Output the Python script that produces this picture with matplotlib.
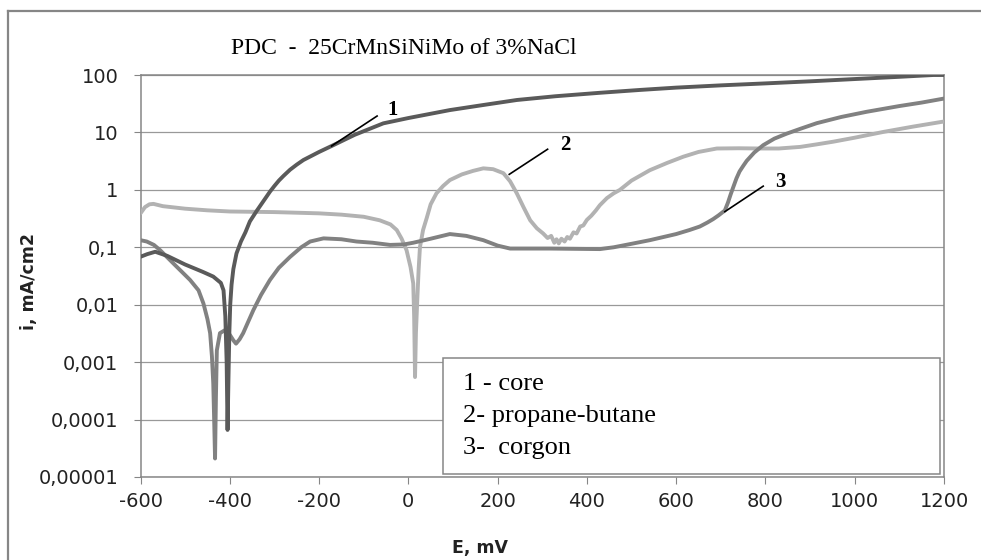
import matplotlib.pyplot as plt
from matplotlib.lines import Line2D
from matplotlib.patches import Rectangle

# curve 1 - core
e_core = [-600, -585, -567, -540, -500, -460, -437, -420, -414, -410, -407, -405,
          -403, -401, -399, -396, -392, -385, -375, -365, -355, -340, -325, -310,
          -300, -290, -280, -265, -250, -235, -220, -200, -172, -120, -56, 0, 93,
          170, 243, 330, 429, 520, 600, 700, 803, 900, 1000, 1100, 1176, 1200]
i_core = [0.0684, 0.0759, 0.0836, 0.0708, 0.0501, 0.0372, 0.0309, 0.024, 0.0178,
          0.0063, 0.001, 0.000066, 0.0005, 0.0032, 0.01, 0.0224, 0.0417, 0.078,
          0.126, 0.182, 0.282, 0.427, 0.63, 0.93, 1.17, 1.45, 1.74, 2.24, 2.75, 3.31,
          3.8, 4.57, 5.8, 9.1, 14.4, 17.8, 24.5, 30.2, 36.7, 42.7, 49, 55, 60.3, 66,
          71.6, 77.6, 85, 93, 100, 100]

# curve 2 - propane-butane
e_pb = [-600, -590, -580, -571, -550, -500, -450, -400, -300, -200, -150, -100,
        -64, -40, -26, -15, -4, 5, 11, 13, 15, 17, 20, 23, 26, 33, 41, 50, 63, 78,
        93, 120, 145, 168, 190, 213, 228, 243, 258, 273, 288, 302, 312, 320, 327,
        332, 337, 343, 350, 356, 362, 370, 377, 385, 392, 400, 410, 420, 429, 445,
        460, 474, 500, 541, 580, 616, 650, 691, 740, 788, 830, 878, 915, 952, 1000,
        1064, 1130, 1200]
i_pb = [0.39, 0.50, 0.56, 0.57, 0.52, 0.47, 0.44, 0.42, 0.41, 0.39, 0.37, 0.34,
        0.295, 0.25, 0.20, 0.141, 0.089, 0.045, 0.0234, 0.0063, 0.00055, 0.0032,
        0.012, 0.04, 0.1, 0.2, 0.32, 0.56, 0.87, 1.17, 1.48, 1.86, 2.14, 2.37, 2.29,
        1.95, 1.41, 0.87, 0.5, 0.295, 0.214, 0.174, 0.145, 0.158, 0.12, 0.138,
        0.117, 0.141, 0.126, 0.151, 0.141, 0.182, 0.174, 0.23, 0.24, 0.30, 0.355,
        0.437, 0.54, 0.72, 0.87, 1.0, 1.45, 2.2, 2.95, 3.78, 4.57, 5.25, 5.3, 5.25,
        5.25, 5.6, 6.2, 6.9, 8.1, 10.2, 12.6, 15.5]

# curve 3 - corgon
e_cg = [-600, -586, -570, -556, -526, -489, -470, -459, -450, -444, -440, -437,
        -435, -433, -431, -429, -422, -411, -400, -392, -386, -378, -370, -360,
        -347, -330, -310, -290, -265, -240, -220, -190, -150, -116, -80, -41, -10,
        11, 50, 93, 130, 168, 200, 228, 317, 429, 460, 500, 541, 570, 600, 630, 653,
        670, 683, 695, 709, 716, 722, 728, 735, 742, 750, 758, 775, 795, 820, 848,
        880, 915, 970, 1027, 1100, 1150, 1200]
i_cg = [0.133, 0.126, 0.11, 0.089, 0.052, 0.027, 0.0178, 0.0105, 0.0056, 0.0032,
        0.00126, 0.00043, 0.0001, 0.000021, 0.00025, 0.0016, 0.0032, 0.0036, 0.003,
        0.0024, 0.0021, 0.0025, 0.0032, 0.0048, 0.0081, 0.0148, 0.027, 0.044, 0.068,
        0.1, 0.126, 0.143, 0.138, 0.126, 0.12, 0.11, 0.112, 0.12, 0.141, 0.17, 0.158,
        0.133, 0.107, 0.095, 0.095, 0.093, 0.1, 0.115, 0.133, 0.15, 0.17, 0.2, 0.23,
        0.27, 0.31, 0.36, 0.437, 0.6, 0.83, 1.12, 1.58, 2.09, 2.6, 3.2, 4.47, 6.0,
        7.8, 9.55, 11.7, 14.5, 18.6, 22.9, 28.8, 33.1, 38.9]

y_ticks = [1e-5, 1e-4, 1e-3, 1e-2, 1e-1, 1, 10, 100]
y_labels = ['0,00001', '0,0001', '0,001', '0,01', '0,1', '1', '10', '100']
x_ticks = [-600, -400, -200, 0, 200, 400, 600, 800, 1000, 1200]

legend_lines = ['1 - core', '2- propane-butane', '3-  corgon']

# curve labels: text, text position, line start, line end
callouts = [('1', (-36, 24.5), (-70, 19.3), (-172, 5.8)),
            ('2', (351, 6.0), (312, 5.1), (226, 1.86)),
            ('3', (833, 1.38), (795, 1.16), (709, 0.417))]

grey = '#868686'

fig = plt.figure(figsize=(9.81, 5.6), dpi=100)
ax = fig.add_axes([140.5 / 981, 1 - 477 / 560, 803.5 / 981, 402 / 560])

ax.plot(e_pb, i_pb, color='#b2b2b2', lw=2.8, zorder=3, solid_capstyle='round')
ax.plot(e_cg, i_cg, color='#818181', lw=2.8, zorder=4, solid_capstyle='round')
ax.plot(e_core, i_core, color='#5a5a5a', lw=2.8, zorder=5, solid_capstyle='round')

ax.set_yscale('log')
ax.set_ylim(1e-5, 100)
ax.set_xlim(-600, 1200)
ax.set_yticks(y_ticks)
ax.set_yticklabels(y_labels)
ax.set_xticks(x_ticks)
ax.set_xticklabels([str(v) for v in x_ticks])
ax.minorticks_off()
ax.grid(axis='y', color='#999999', lw=0.9)
ax.set_axisbelow(True)
for s in ax.spines.values():
    s.set_color(grey)
    s.set_linewidth(1.1)
ax.tick_params(direction='out', length=5, color=grey, labelsize=14,
               labelcolor='#222222')
ax.tick_params(axis='y', pad=11)
ax.tick_params(axis='x', pad=6)

for txt, tpos, p0, p1 in callouts:
    ax.plot([p0[0], p1[0]], [p0[1], p1[1]], color='black', lw=1.2, zorder=6)
    ax.text(tpos[0], tpos[1], txt, family='Liberation Serif', fontweight='bold',
            fontsize=15, ha='center', va='center', zorder=6)

fig.text(404 / 981, 1 - 48 / 560, 'PDC  -  25CrMnSiNiMo of 3%NaCl',
         family='Liberation Serif', fontsize=17, ha='center', va='center')
fig.text(480 / 981, 1 - 548 / 560, 'E, mV', fontsize=12.5, fontweight='bold',
         ha='center', va='center', color='#222222')
fig.text(29 / 981, 1 - 282 / 560, 'i, mA/cm2', fontsize=12.5, fontweight='bold',
         ha='center', va='center', rotation=90, color='#222222')

# legend box
fig.patches.append(Rectangle((443 / 981, 1 - 474 / 560), 497 / 981, 116 / 560,
                             transform=fig.transFigure, facecolor='white',
                             edgecolor=grey, lw=1.1, zorder=7))
for k, line in enumerate(legend_lines):
    fig.text(463 / 981, 1 - (384 + 31.8 * k) / 560, line,
             family='Liberation Serif', fontsize=19, ha='left', va='center',
             zorder=8)

# outer chart border (left and top only visible)
fig.lines.append(Line2D([8 / 981, 8 / 981], [0, 1 - 11 / 560], color=grey,
                        lw=1.6, transform=fig.transFigure))
fig.lines.append(Line2D([8 / 981, 1], [1 - 11 / 560, 1 - 11 / 560], color=grey,
                        lw=1.6, transform=fig.transFigure))

fig.savefig('out.png', dpi=100)
